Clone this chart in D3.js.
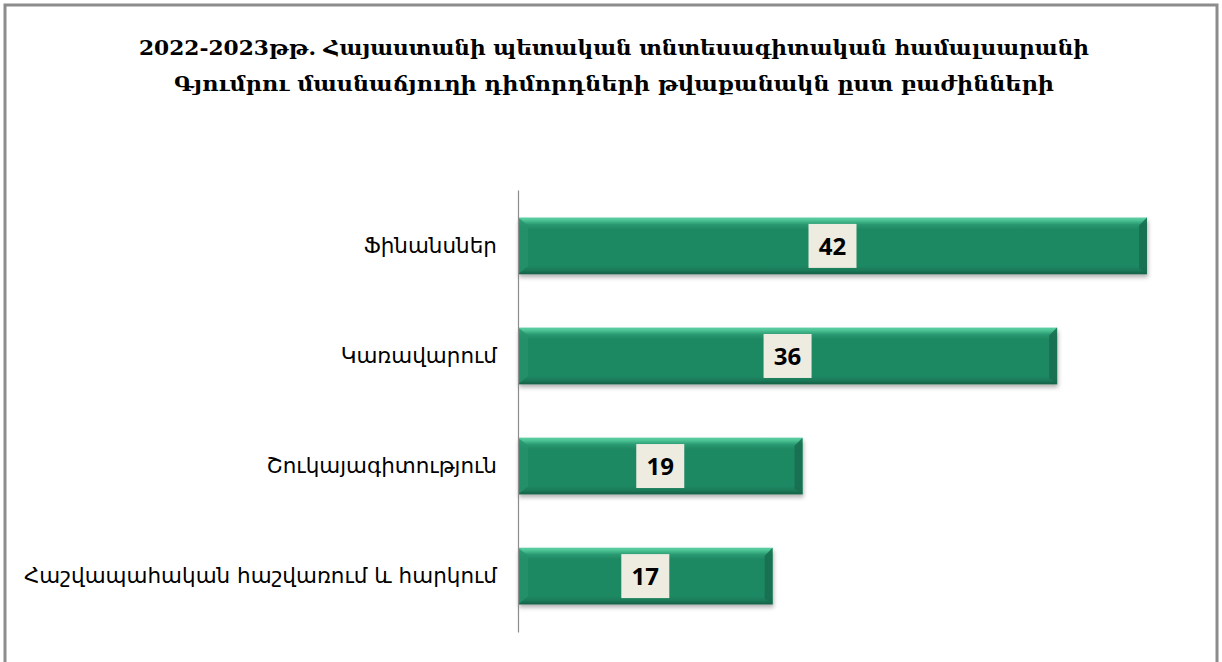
<!DOCTYPE html>
<html>
<head>
<meta charset="utf-8">
<script src="https://cdn.jsdelivr.net/npm/d3@7"></script>
<style>
  body { margin: 0; background: #fff; }
  svg { display: block; }
</style>
</head>
<body>
<div id="chart"></div>
<script>
// data
var titleLines = [
    "2022-2023թթ. Հայաստանի պետական տնտեսագիտական համալսարանի",
    "Գյումրու մասնաճյուղի   դիմորդների թվաքանակն ըստ բաժինների"
];
var categories = ["Ֆինանսներ", "Կառավարում", "Շուկայագիտություն", "Հաշվապահական հաշվառում և հարկում"];
var values = [42, 36, 19, 17];

var width = 1222, height = 662;
var margins = {left: 518, right: 75, top: 190, bottom: 30};

var svg = d3.select('#chart')
    .append('svg')
        .attr('width', width)
        .attr('height', height);

// frame
svg.append('rect')
    .attr('x', 5).attr('y', 5)
    .attr('width', 1212).attr('height', 670)
    .attr('fill', '#fff')
    .attr('stroke', '#8c8c8c')
    .attr('stroke-width', 3);

var defs = svg.append('defs');
var grad = defs.append('linearGradient')
    .attr('id', 'barGrad')
    .attr('x1', 0).attr('y1', 0).attr('x2', 0).attr('y2', 1);
grad.append('stop').attr('offset', '0%').attr('stop-color', '#5fd0a6');
grad.append('stop').attr('offset', '5%').attr('stop-color', '#4cc394');
grad.append('stop').attr('offset', '12%').attr('stop-color', '#2a9a72');
grad.append('stop').attr('offset', '20%').attr('stop-color', '#1f8964');
grad.append('stop').attr('offset', '85%').attr('stop-color', '#1f8964');
grad.append('stop').attr('offset', '93%').attr('stop-color', '#1a7a58');
grad.append('stop').attr('offset', '100%').attr('stop-color', '#155f45');

var shadow = defs.append('filter').attr('id', 'shadow')
    .attr('x', '-5%').attr('y', '-20%').attr('width', '110%').attr('height', '150%');
shadow.append('feDropShadow')
    .attr('dx', 1).attr('dy', 3).attr('stdDeviation', 2)
    .attr('flood-color', '#000').attr('flood-opacity', 0.3);

// scales
var xScale = d3.scaleLinear()
    .domain([0, 42])
    .range([margins.left, 1147]);

var yScale = d3.scaleBand()
    .domain(categories)
    .range([margins.top, height - margins.bottom])
    .paddingInner(0.484)
    .paddingOuter(0.25);

// title
var title = svg.append('g')
    .attr('font-family', '"DejaVu Serif", serif')
    .attr('font-weight', 'bold')
    .attr('font-size', 21)
    .attr('fill', '#000')
    .attr('text-anchor', 'middle')
    .style('white-space', 'pre');

title.selectAll('text')
    .data(titleLines)
    .enter()
    .append('text')
        .attr('x', 614)
        .attr('y', function (d, i) { return 55 + i * 36; })
        .attr('textLength', function (d, i) { return i === 0 ? 950 : 880; })
        .attr('lengthAdjust', 'spacingAndGlyphs')
        .text(function (d) { return d; });

// bars
var bars = svg.selectAll('.bar')
    .data(values)
    .enter()
    .append('g')
        .attr('class', 'bar')
        .attr('transform', function (d, i) { return 'translate(' + xScale(0) + ',' + yScale(categories[i]) + ')'; });

var bh = yScale.bandwidth();

bars.append('rect')
    .attr('width', function (d) { return xScale(d) - xScale(0); })
    .attr('height', bh)
    .attr('fill', 'url(#barGrad)')
    .attr('filter', 'url(#shadow)');

// bevel on the ends
bars.append('path')
    .attr('d', 'M0,0 L10,8 L10,' + (bh - 8) + ' L0,' + bh + ' Z')
    .attr('fill', '#26926b')
    .attr('opacity', 0.8);

bars.append('path')
    .attr('d', function (d) {
        var w = xScale(d) - xScale(0);
        return 'M' + w + ',0 L' + (w - 8) + ',8 L' + (w - 8) + ',' + (bh - 6) + ' L' + w + ',' + bh + ' Z';
    })
    .attr('fill', '#176d4f')
    .attr('opacity', 0.85);

// value labels
var boxW = 48, boxH = 44;
bars.append('rect')
    .attr('x', function (d) { return (xScale(d) - xScale(0)) / 2 - boxW / 2; })
    .attr('y', bh / 2 - boxH / 2)
    .attr('width', boxW)
    .attr('height', boxH)
    .attr('fill', '#eeece1');

bars.append('text')
    .attr('x', function (d) { return (xScale(d) - xScale(0)) / 2; })
    .attr('y', bh / 2)
    .attr('dy', '0.36em')
    .attr('text-anchor', 'middle')
    .attr('font-family', '"Open Sans", "Liberation Sans", sans-serif')
    .attr('font-weight', 'bold')
    .attr('font-size', 24)
    .attr('fill', '#000')
    .text(function (d) { return d; });

// category axis
var yAxis = svg.append('g')
    .attr('transform', 'translate(' + margins.left + ',0)')
    .call(d3.axisLeft(yScale).tickSize(0).tickPadding(21));

yAxis.select('.domain')
    .attr('stroke', '#8c8c8c')
    .attr('stroke-width', 1.2);

yAxis.selectAll('text')
    .attr('font-family', '"DejaVu Sans", "Noto Sans", sans-serif')
    .attr('font-size', 21.5)
    .attr('fill', '#000');
</script>
</body>
</html>
